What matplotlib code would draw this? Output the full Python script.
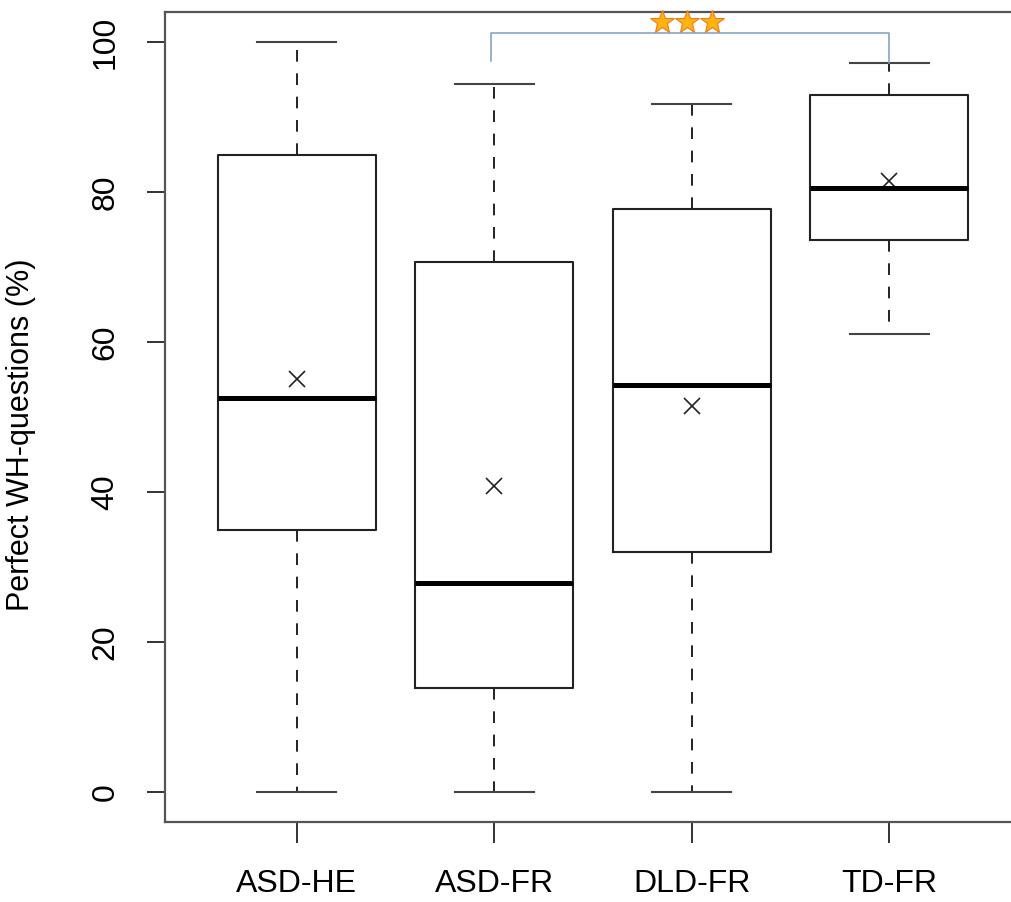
import numpy as np
import matplotlib
matplotlib.use("Agg")
import matplotlib.pyplot as plt

plt.rcParams['font.family'] = ['Liberation Sans', 'DejaVu Sans']

groups = ["ASD-HE", "ASD-FR", "DLD-FR", "TD-FR"]
whislo = [0, 0, 0, 61.1]
q1 = [35, 13.9, 32, 73.6]
med = [52.5, 27.9, 54.3, 80.5]
q3 = [85, 70.7, 77.7, 92.9]
whishi = [100, 94.4, 91.7, 97.2]
means = [55.1, 40.8, 51.5, 81.5]

# significance bracket between ASD-FR and TD-FR
sig_pair = (1.985, 4)
sig_y = 101.2
sig_legs = (97.5, 97.2)
stars_x = [2.848, 2.975, 3.101]
stars_y = 102.7

stats = []
for i, g in enumerate(groups):
    stats.append(dict(label=g, whislo=whislo[i], q1=q1[i], med=med[i],
                      q3=q3[i], whishi=whishi[i], fliers=[]))

fig = plt.figure(figsize=(10.11, 9.02), dpi=100)
ax = fig.add_axes([165/1011, 80/902, (1030-165)/1011, 810/902])

col = "#222222"
pos = np.arange(1, len(groups) + 1)
ax.bxp(stats, positions=pos, widths=0.8, showfliers=False,
       boxprops=dict(color=col, linewidth=1.5),
       whiskerprops=dict(color=col, linewidth=1.4, linestyle=(0, (6, 6))),
       capprops=dict(color="#444444", linewidth=1.5),
       medianprops=dict(color="black", linewidth=3.6, solid_capstyle="butt"),
       capwidths=0.4)
ax.plot(pos, means, linestyle="none", marker="x", markersize=11,
        markeredgewidth=1.2, color=col)

x0, x1 = sig_pair
ax.plot([x0, x0, x1, x1], [sig_legs[0], sig_y, sig_y, sig_legs[1]],
        color="#7f9cc0", linewidth=1.1)
ax.plot(stars_x, [stars_y]*len(stars_x), linestyle="none", marker="*",
        markersize=18, markerfacecolor="#ffb30f", markeredgecolor="#f07a1a",
        markeredgewidth=0.8, clip_on=False, zorder=5)

ax.set_xlim(0.332, 4.714)
ax.set_ylim(-4, 104)
ax.set_xticks(pos)
ax.set_xticklabels(groups)
ax.set_yticks([0, 20, 40, 60, 80, 100])
ax.set_yticklabels(["0", "20", "40", "60", "80", "100"], rotation=90, va="center")
ax.tick_params(axis="x", length=15, width=1.4, pad=19, labelsize=23, color="#333333")
ax.tick_params(axis="y", length=13, width=1.4, pad=19, labelsize=23, color="#333333")
ax.set_ylabel("Perfect WH-questions (%)", fontsize=22)
ax.yaxis.set_label_coords(-0.1487, 0.478)
for s in ax.spines.values():
    s.set_linewidth(1.6)
    s.set_color("#555555")
ax.spines['right'].set_visible(False)

fig.savefig("out.png", dpi=100)
